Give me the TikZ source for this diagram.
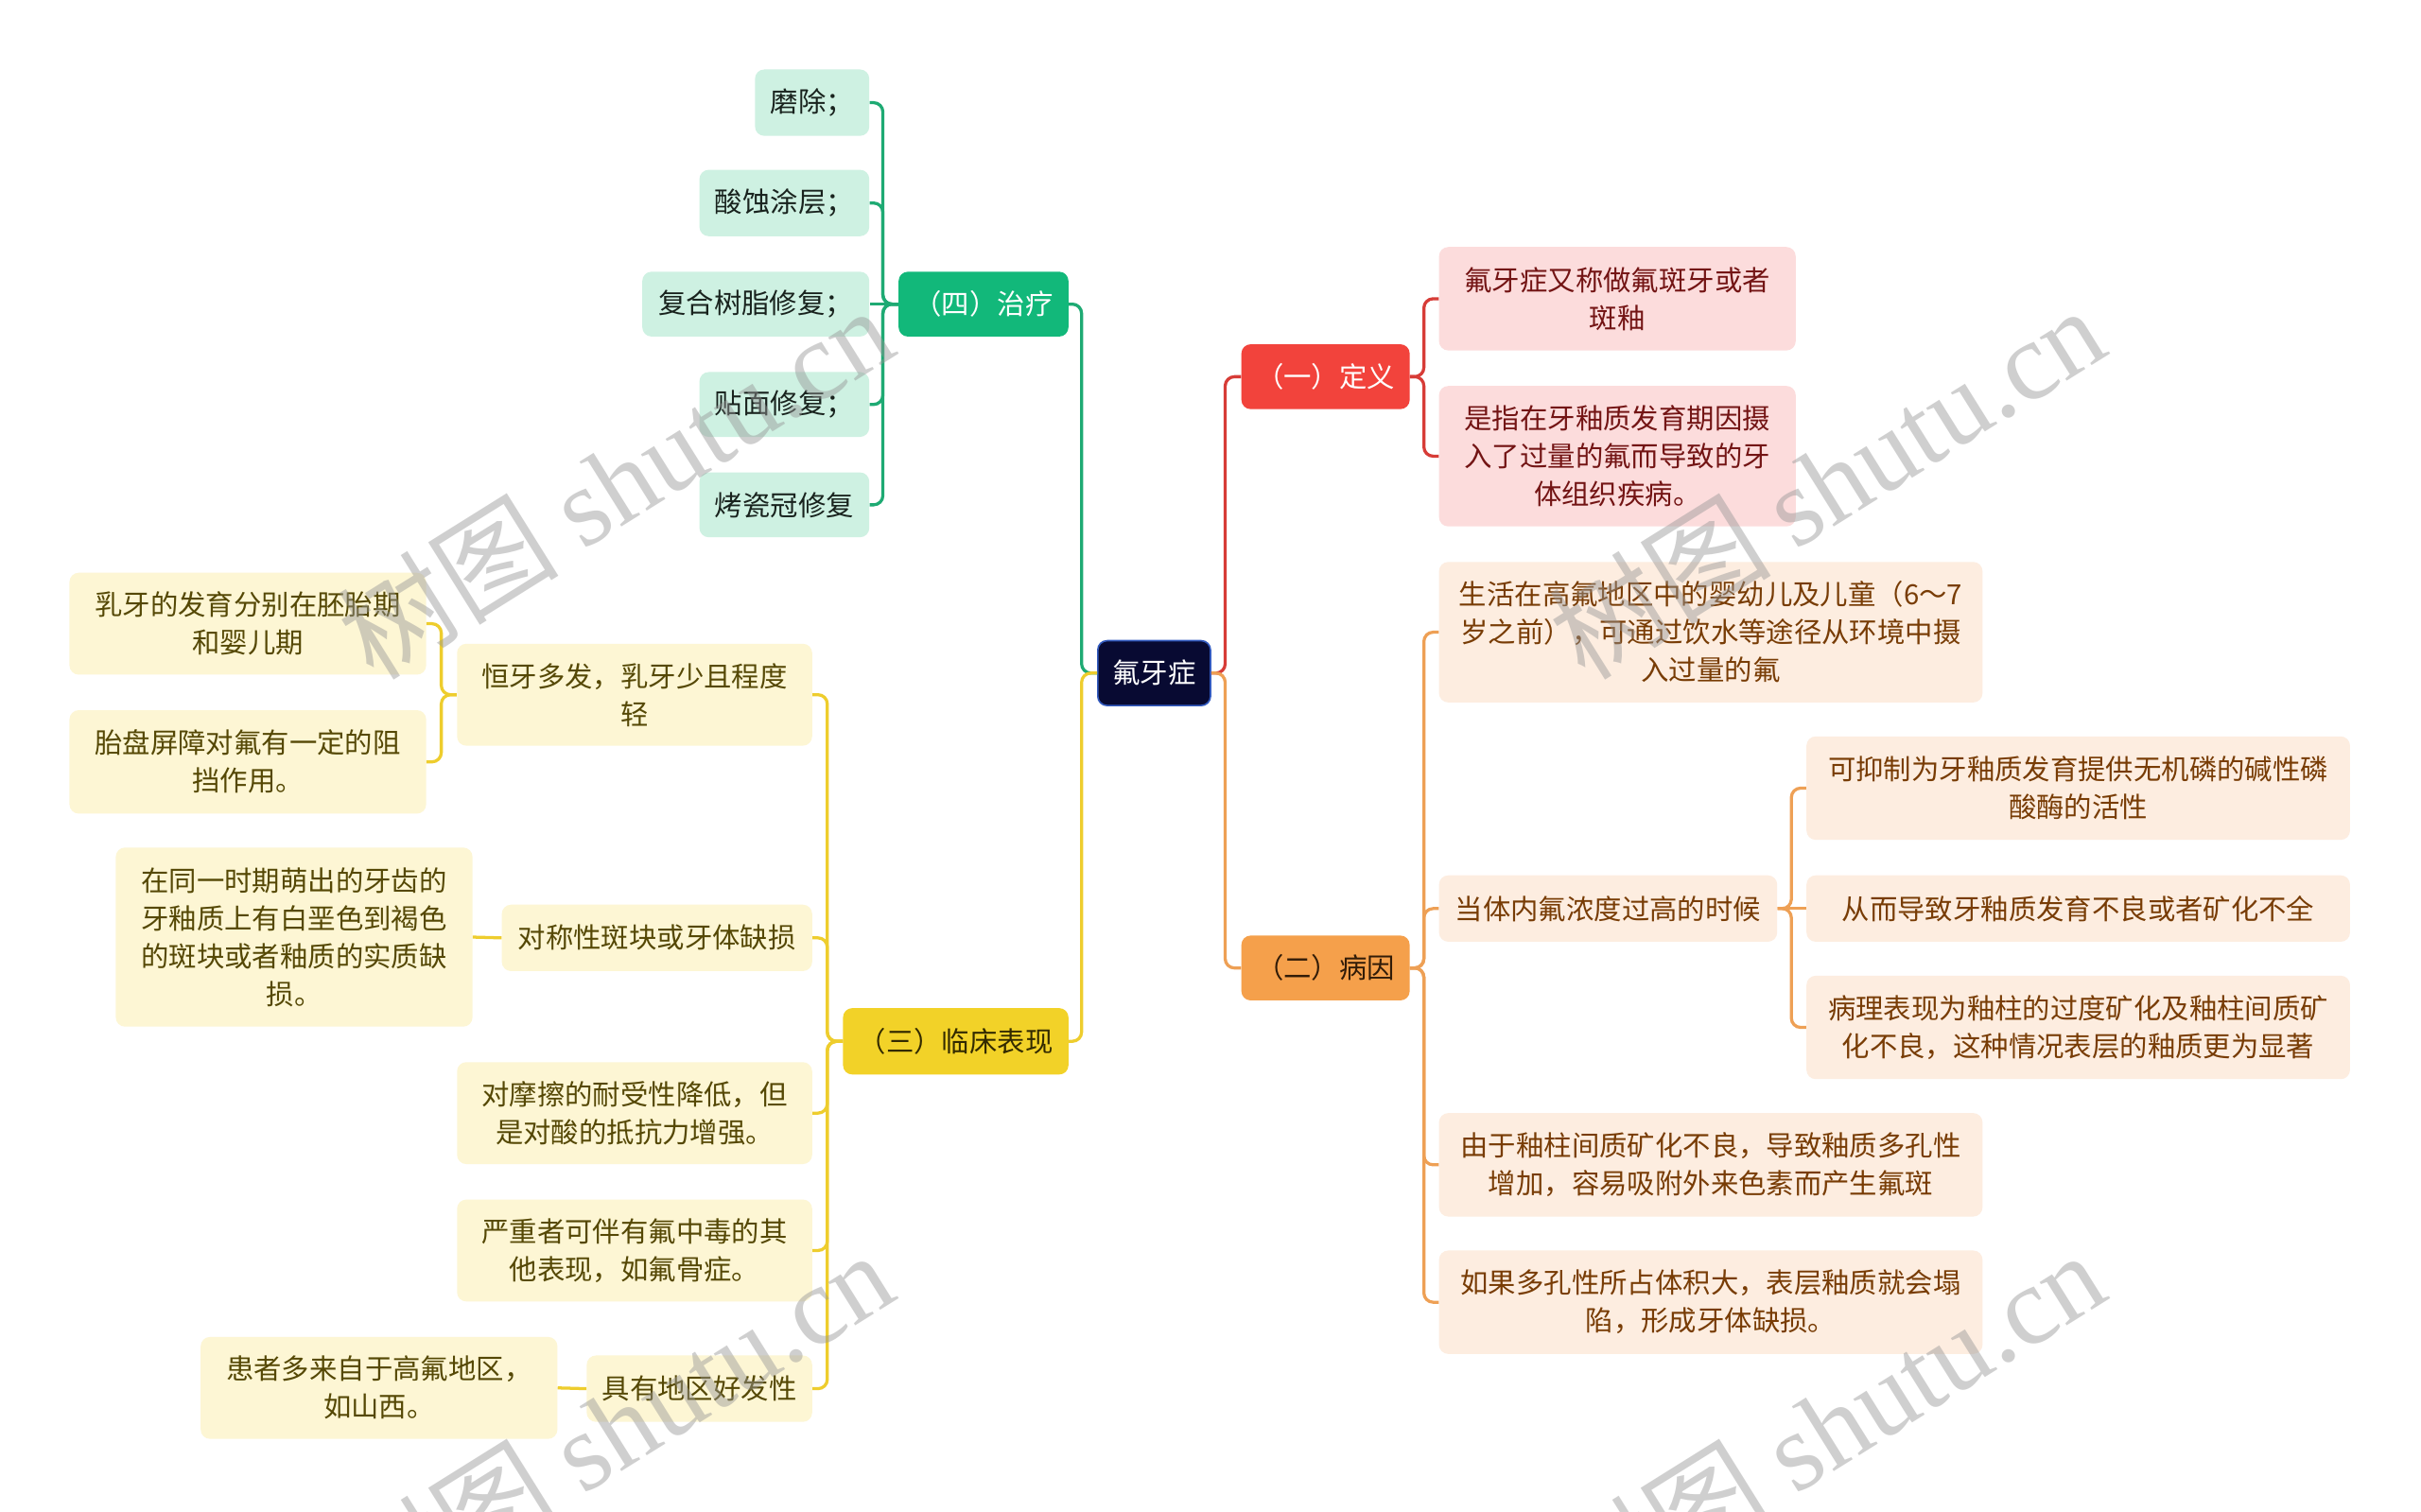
\documentclass[tikz,border=0pt]{standalone}
\usepackage{fontspec}
\setmainfont{Noto Sans CJK SC}
\newfontfamily\wmserif{Liberation Serif}
\newcommand\fsz{\fontsize{18pt}{24.5pt}\selectfont}
\definecolor{rootfill}{RGB}{8,10,50}
\definecolor{rootdraw}{RGB}{50,90,190}
\definecolor{gmain}{RGB}{18,184,122}
\definecolor{gline}{RGB}{30,170,115}
\definecolor{gsub}{RGB}{206,241,226}
\definecolor{gtext}{RGB}{25,35,30}
\definecolor{rmain}{RGB}{242,67,60}
\definecolor{rline}{RGB}{215,60,55}
\definecolor{rsub}{RGB}{252,220,220}
\definecolor{rtext}{RGB}{115,20,20}
\definecolor{omain}{RGB}{245,160,75}
\definecolor{oline}{RGB}{238,160,85}
\definecolor{osub}{RGB}{253,237,224}
\definecolor{otext}{RGB}{120,60,5}
\definecolor{otextmain}{RGB}{50,28,8}
\definecolor{ymain}{RGB}{242,210,40}
\definecolor{yline}{RGB}{238,205,45}
\definecolor{ysub}{RGB}{253,246,212}
\definecolor{ytext}{RGB}{85,72,5}
\definecolor{ytextmain}{RGB}{50,42,0}
\definecolor{wmgray}{RGB}{150,150,150}
\tikzset{
  box/.style={rounded corners=6, align=center, inner sep=0pt, font=\fsz},
  rootbox/.style={box, fill=rootfill, draw=rootdraw, line width=1pt, text=white},
  gbig/.style={box, fill=gmain, text=white},
  gsmall/.style={box, fill=gsub, text=gtext},
  rbig/.style={box, fill=rmain, text=white},
  rsmall/.style={box, fill=rsub, text=rtext},
  obig/.style={box, fill=omain, text=otextmain},
  osmall/.style={box, fill=osub, text=otext},
  ybig/.style={box, fill=ymain, text=ytextmain},
  ysmall/.style={box, fill=ysub, text=ytext},
  gl/.style={draw=gline, line width=2pt, rounded corners=6},
  rl/.style={draw=rline, line width=2pt, rounded corners=6},
  ol/.style={draw=oline, line width=2pt, rounded corners=6},
  yl/.style={draw=yline, line width=2pt, rounded corners=6},
  wm/.style={text=wmgray, opacity=0.45, font=\fontsize{72pt}{76pt}\selectfont, inner sep=0pt, rotate=32},
}
\begin{document}
\begin{tikzpicture}[x=1pt, y=-1pt]
\useasboundingbox (0,0) rectangle (1568,979);
\fill[white] (0,0) rectangle (1568,979);

% root
\node[rootbox, minimum width=73, minimum height=42] (root) at (747.5,436) {氟牙症};

% (四) 治疗
\node[gbig, minimum width=110, minimum height=42] (zl) at (637,197) {（四）治疗};
\node[gsmall, minimum width=74, minimum height=43] (g1) at (526,66.5) {磨除；};
\node[gsmall, minimum width=110, minimum height=43] (g2) at (508,131.5) {酸蚀涂层；};
\node[gsmall, minimum width=147, minimum height=42] (g3) at (489.5,197) {复合树脂修复；};
\node[gsmall, minimum width=110, minimum height=42] (g4) at (508,262) {贴面修复；};
\node[gsmall, minimum width=110, minimum height=42] (g5) at (508,327) {烤瓷冠修复};

% (一) 定义
\node[rbig, minimum width=109, minimum height=42] (dy) at (858.5,244) {（一）定义};
\node[rsmall, minimum width=231, minimum height=67] (d1) at (1047.5,193.5) {氟牙症又称做氟斑牙或者\\斑釉};
\node[rsmall, minimum width=231, minimum height=91] (d2) at (1047.5,295.5) {是指在牙釉质发育期因摄\\入了过量的氟而导致的牙\\体组织疾病。};

% (二) 病因
\node[obig, minimum width=109, minimum height=42] (by) at (858.5,627) {（二）病因};
\node[osmall, minimum width=352, minimum height=91] (c1) at (1108,409.5) {生活在高氟地区中的婴幼儿及儿童（6～7\\岁之前），可通过饮水等途径从环境中摄\\入过量的氟};
\node[osmall, minimum width=219, minimum height=43] (c2) at (1041.5,588.5) {当体内氟浓度过高的时候};
\node[osmall, minimum width=352, minimum height=67] (c2a) at (1346,510.5) {可抑制为牙釉质发育提供无机磷的碱性磷\\酸酶的活性};
\node[osmall, minimum width=352, minimum height=43] (c2b) at (1346,588.5) {从而导致牙釉质发育不良或者矿化不全};
\node[osmall, minimum width=352, minimum height=67] (c2c) at (1346,665.5) {病理表现为釉柱的过度矿化及釉柱间质矿\\化不良，这种情况表层的釉质更为显著};
\node[osmall, minimum width=352, minimum height=67] (c3) at (1108,754.5) {由于釉柱间质矿化不良，导致釉质多孔性\\增加，容易吸附外来色素而产生氟斑};
\node[osmall, minimum width=352, minimum height=67] (c4) at (1108,843.5) {如果多孔性所占体积大，表层釉质就会塌\\陷，形成牙体缺损。};

% (三) 临床表现
\node[ybig, minimum width=146, minimum height=43] (lc) at (619,674.5) {（三）临床表现};
\node[ysmall, minimum width=230, minimum height=66] (y1) at (411,450) {恒牙多发，乳牙少且程度\\轻};
\node[ysmall, minimum width=231, minimum height=66] (y1a) at (160.5,404) {乳牙的发育分别在胚胎期\\和婴儿期};
\node[ysmall, minimum width=231, minimum height=67] (y1b) at (160.5,493.5) {胎盘屏障对氟有一定的阻\\挡作用。};
\node[ysmall, minimum width=201, minimum height=43] (y2) at (425.5,607.5) {对称性斑块或牙体缺损};
\node[ysmall, minimum width=231, minimum height=116] (y2a) at (190.5,607) {在同一时期萌出的牙齿的\\牙釉质上有白垩色到褐色\\的斑块或者釉质的实质缺\\损。};
\node[ysmall, minimum width=230, minimum height=66] (y3) at (411,721) {对摩擦的耐受性降低，但\\是对酸的抵抗力增强。};
\node[ysmall, minimum width=230, minimum height=66] (y4) at (411,810) {严重者可伴有氟中毒的其\\他表现，如氟骨症。};
\node[ysmall, minimum width=146, minimum height=43] (y5) at (453,899.5) {具有地区好发性};
\node[ysmall, minimum width=231, minimum height=66] (y5a) at (245.5,899) {患者多来自于高氟地区，\\如山西。};

% connectors: root
\draw[gl] (root.west) -- ++(-10,0) |- (zl.east);
\draw[yl] (root.west) -- ++(-10,0) |- (lc.east);
\draw[rl] (root.east) -- ++(9,0) |- (dy.west);
\draw[ol] (root.east) -- ++(9,0) |- (by.west);

% green
\draw[gl] (zl.west) -- ++(-10,0) |- (g1.east);
\draw[gl] (zl.west) -- ++(-10,0) |- (g2.east);
\draw[gl] (zl.west) -- (g3.east);
\draw[gl] (zl.west) -- ++(-10,0) |- (g4.east);
\draw[gl] (zl.west) -- ++(-10,0) |- (g5.east);

% red
\draw[rl] (dy.east) -- ++(9,0) |- (d1.west);
\draw[rl] (dy.east) -- ++(9,0) |- (d2.west);

% orange
\draw[ol] (by.east) -- ++(9,0) |- (c1.west);
\draw[ol] (by.east) -- ++(9,0) |- (c2.west);
\draw[ol] (by.east) -- ++(9,0) |- (c3.west);
\draw[ol] (by.east) -- ++(9,0) |- (c4.west);
\draw[ol] (c2.east) -- ++(9,0) |- (c2a.west);
\draw[ol] (c2.east) -- (c2b.west);
\draw[ol] (c2.east) -- ++(9,0) |- (c2c.west);

% yellow
\draw[yl] (lc.west) -- ++(-10,0) |- (y1.east);
\draw[yl] (lc.west) -- ++(-10,0) |- (y2.east);
\draw[yl] (lc.west) -- ++(-10,0) |- (y3.east);
\draw[yl] (lc.west) -- ++(-10,0) |- (y4.east);
\draw[yl] (lc.west) -- ++(-10,0) |- (y5.east);
\draw[yl] (y1.west) -- ++(-10,0) |- (y1a.east);
\draw[yl] (y1.west) -- ++(-10,0) |- (y1b.east);
\draw[yl] (y2.west) -- (y2a.east);
\draw[yl] (y5.west) -- (y5a.east);

% watermarks
\node[wm] (wm1) at (398,312) {树图 {\wmserif shutu.cn}};
\node[wm] (wm2) at (1183,312) {树图 {\wmserif shutu.cn}};
\node[wm] (wm3) at (398,924) {树图 {\wmserif shutu.cn}};
\node[wm] (wm4) at (1183,924) {树图 {\wmserif shutu.cn}};
\end{tikzpicture}
\end{document}
